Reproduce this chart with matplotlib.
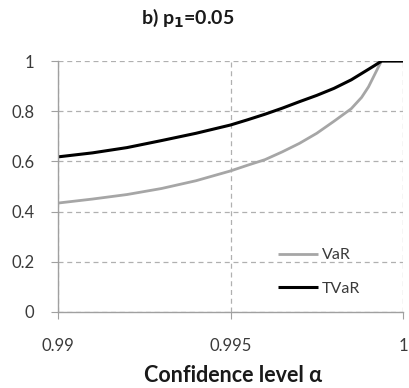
import matplotlib
matplotlib.use("Agg")
import matplotlib.pyplot as plt

alpha_var = [0.9900, 0.9910, 0.9920, 0.9930, 0.9940, 0.9950, 0.9955, 0.9960, 0.9965, 0.9970,
             0.9975, 0.9980, 0.9985, 0.9988, 0.9990, 0.9992, 0.99932, 0.99938, 1.0000]
var_vals = [0.434, 0.450, 0.468, 0.492, 0.523, 0.562, 0.585, 0.607, 0.638, 0.672,
            0.712, 0.760, 0.810, 0.855, 0.897, 0.952, 0.985, 1.000, 1.000]
alpha_tvar = [0.9900, 0.9910, 0.9920, 0.9930, 0.9940, 0.9950, 0.9955, 0.9960, 0.9965, 0.9970,
              0.9975, 0.9980, 0.9985, 0.9990, 0.9992, 0.99938, 1.0000]
tvar_vals = [0.618, 0.634, 0.655, 0.683, 0.712, 0.745, 0.766, 0.788, 0.812, 0.838,
             0.863, 0.891, 0.925, 0.967, 0.984, 1.000, 1.000]
xticks = [0.99, 0.995, 1.0]
xticklabels = ["0.99", "0.995", "1"]
yticks = [0, 0.2, 0.4, 0.6, 0.8, 1.0]
yticklabels = ["0", "0.2", "0.4", "0.6", "0.8", "1"]

plt.rcParams['font.family'] = ['Lato', 'DejaVu Sans']

fig = plt.figure(figsize=(4.10, 3.88), dpi=100)
ax = fig.add_axes([58/410, 1-312/388, (403-58)/410, (312-61)/388])

ax.plot(alpha_var, var_vals, color='#a6a6a6', lw=2.0, label='VaR', solid_capstyle='butt')
ax.plot(alpha_tvar, tvar_vals, color='#000000', lw=2.2, label='TVaR', solid_capstyle='butt')

ax.set_xlim(0.99, 1.0)
ax.set_ylim(0, 1)
ax.set_xticks(xticks)
ax.set_xticklabels(xticklabels)
ax.set_yticks(yticks)
ax.set_yticklabels(yticklabels)

ax.grid(True, linestyle=(0, (4, 3)), color='#b0b0b0', lw=0.9)
ax.set_axisbelow(True)
for s in ['top', 'right']:
    ax.spines[s].set_visible(False)
for s in ['left', 'bottom']:
    ax.spines[s].set_color('#a0a0a0')
    ax.spines[s].set_linewidth(1.0)

ax.tick_params(axis='y', direction='out', length=5, color='#a0a0a0', pad=12,
               labelsize=12, labelcolor='#3a3a3a')
ax.tick_params(axis='x', direction='out', length=5, color='#a0a0a0', pad=14,
               labelsize=12, labelcolor='#3a3a3a')

leg = ax.legend(loc='upper left', bbox_to_anchor=((278-58)/345, (312-248)/251), frameon=False,
                fontsize=11.5, handlelength=2.5, handletextpad=0.25, labelspacing=1.2,
                borderpad=0, borderaxespad=0, labelcolor='#3a3a3a')

fig.text(188/410, 1-18/388, 'b) p$_\\mathbf{1}$=0.05', ha='center', va='center',
         fontsize=14, fontweight='bold', color='#1a1a1a')
fig.text(233/410, 1-375/388, 'Confidence level α', ha='center', va='center',
         fontsize=15.5, fontweight='bold', color='#1a1a1a')

fig.savefig('out.png', dpi=100)
